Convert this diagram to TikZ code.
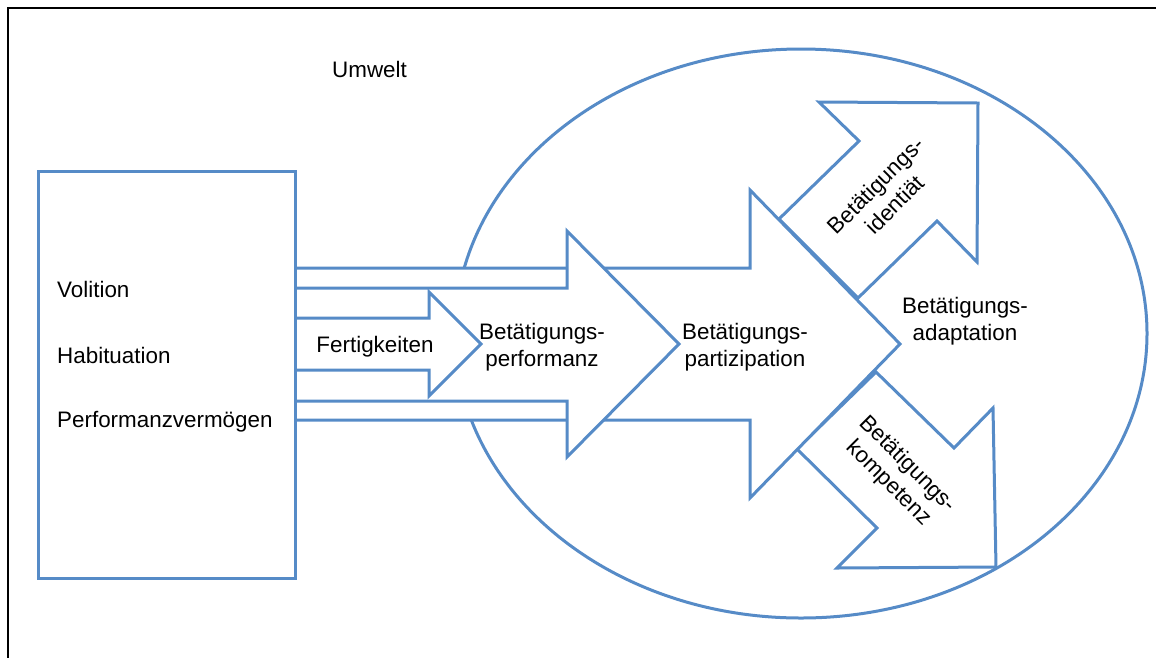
\documentclass[tikz,border=0pt]{standalone}
\usepackage{fontspec}
\setmainfont{Liberation Sans}
\definecolor{lineblue}{RGB}{86,139,199}
\begin{document}
\begin{tikzpicture}[x=1pt,y=-1pt,
  shapeline/.style={draw=lineblue,line width=3pt,fill=white},
  framestyle/.style={draw=black,line width=2.8pt},
  lbl/.style={font=\fontsize{22.4}{27}\selectfont,inner sep=0pt,align=center,text=black}]
\useasboundingbox (0,0) rectangle (1156,657);
% frame (right and bottom sides lie outside the picture)
\coordinate (frTR) at (1170,8);
\coordinate (frTL) at (8,8);
\coordinate (frBL) at (8,670);
\draw[framestyle] (frTR) -- (frTL) -- (frBL);
% environment ellipse
\draw[draw=lineblue,line width=3pt] (801,333.5) ellipse [x radius=346pt, y radius=284.5pt];
% Betaetigungsidentitaet arrow
\draw[shapeline] (779,219) -- (859,141) -- (819,102) -- (978,103) -- (977,262) -- (937,221) -- (858,298) -- cycle;
% Betaetigungskompetenz arrow
\draw[shapeline] (876,372) -- (954,448) -- (993,408) -- (996,567) -- (837,568) -- (877,528) -- (797,449) -- cycle;
% Partizipation arrow
\draw[shapeline] (294,268) -- (750,268) -- (750,190) -- (900,344) -- (750,498) -- (750,420) -- (294,420) -- cycle;
% Performanz arrow
\draw[shapeline] (294,288) -- (567,288) -- (567,231) -- (679,344) -- (567,457) -- (567,401) -- (294,401) -- cycle;
% Fertigkeiten arrow
\draw[shapeline] (294,318) -- (429,318) -- (429,292) -- (481,344) -- (429,396) -- (429,370) -- (294,370) -- cycle;
% left box
\draw[shapeline] (38,171) rectangle (295,578);
% texts
\node[lbl,anchor=base west] (umwelt) at (332,77) {Umwelt};
\node[lbl,anchor=base west] (vol) at (57,297) {Volition};
\node[lbl,anchor=base west] (hab) at (57,363) {Habituation};
\node[lbl,anchor=base west] (perfv) at (57,427) {Performanzvermögen};
\node[lbl,anchor=base] (fert) at (375,352) {Fertigkeiten};
\node[lbl] (perf) at (542,347) {Betätigungs-\\performanz};
\node[lbl] (part) at (745,347) {Betätigungs-\\partizipation};
\node[lbl] (adapt) at (965,321) {Betätigungs-\\adaptation};
\node[lbl,rotate=45] (ident) at (885,195) {Betätigungs-\\identiät};
\node[lbl,rotate=-45] (komp) at (898,474) {Betätigungs-\\kompetenz};
\end{tikzpicture}
\end{document}
